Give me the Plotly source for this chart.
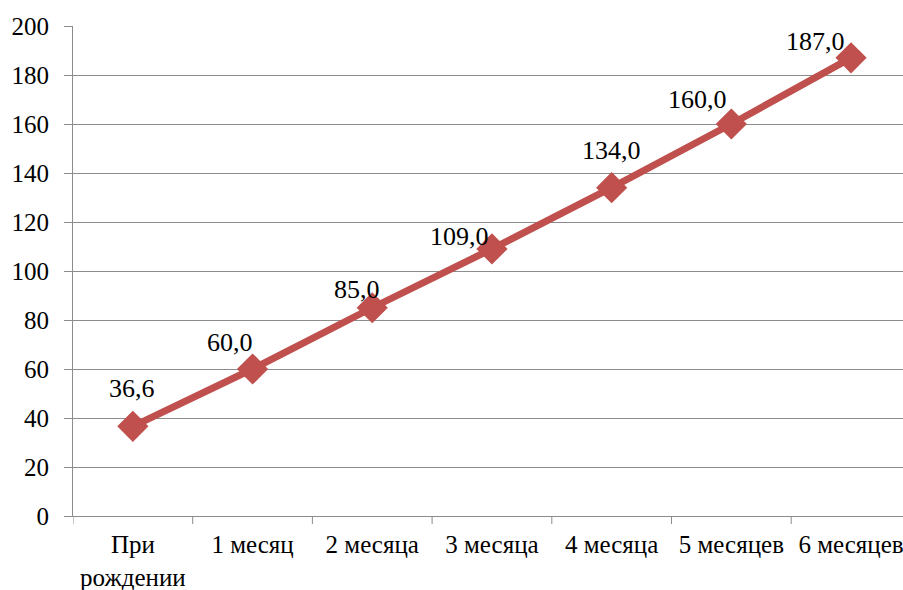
import plotly.graph_objects as go

# Age points and body mass values
categories = ["При<br>рождении", "1 месяц", "2 месяца", "3 месяца",
              "4 месяца", "5 месяцев", "6 месяцев"]
values = [36.6, 60.0, 85.0, 109.0, 134.0, 160.0, 187.0]
y_ticks = list(range(0, 201, 20))

# Label offsets (pixels) relative to each marker
label_dx = [-1, -23, -15, -32, 0, -34, -36]
label_dy = [38, 27, 18, 12, 37, 25, 16]

RED = "#C0504D"
GRID = "#8C8C8C"
FONT = "Liberation Serif"

x_idx = list(range(len(categories)))
X_MAX = 6.434

fig = go.Figure()
fig.add_trace(go.Scatter(
    x=x_idx, y=values,
    mode="lines+markers",
    line=dict(color=RED, width=7),
    marker=dict(symbol="diamond", size=24, color=RED),
    showlegend=False,
    hoverinfo="skip",
))

for xi, v, dx, dy in zip(x_idx, values, label_dx, label_dy):
    fig.add_annotation(
        x=xi, y=v, text=f"{v:.1f}".replace(".", ","),
        showarrow=False, xshift=dx, yshift=dy,
        font=dict(family=FONT, size=26, color="black"),
    )

fig.update_layout(
    template="none",
    width=903, height=590,
    margin=dict(l=73, r=0, t=26, b=74),
    paper_bgcolor="white", plot_bgcolor="white",
    font=dict(family=FONT, size=25, color="black"),
)

fig.update_xaxes(
    range=[-0.5, X_MAX],
    tickmode="array", tickvals=x_idx, ticktext=categories,
    showgrid=False, zeroline=False,
    showline=True, linecolor=GRID, linewidth=1,
    ticks="", ticklabeloverflow="allow",
    ticklabelstandoff=6,
    tickfont=dict(family=FONT, size=25, color="black"),
)

# Tick marks at category boundaries
for b in [i - 0.5 for i in range(len(categories) + 1)]:
    if b <= X_MAX:
        fig.add_shape(type="line", xref="x", yref="paper",
                      x0=b, x1=b, y0=0, y1=-8 / 490,
                      line=dict(color=GRID, width=1))

fig.update_yaxes(
    range=[0, 200],
    tickmode="array", tickvals=y_ticks,
    showgrid=True, gridcolor=GRID, gridwidth=1,
    zeroline=False,
    showline=True, linecolor=GRID, linewidth=1,
    ticks="outside", ticklen=8, tickcolor=GRID,
    ticklabelstandoff=10,
    tickfont=dict(family=FONT, size=25, color="black"),
)

fig.write_html("out.html")
